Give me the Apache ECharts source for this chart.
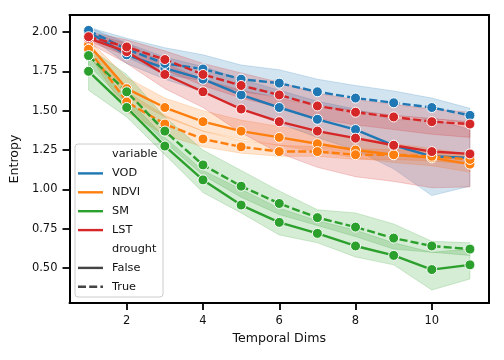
<!DOCTYPE html>
<html>
<head>
<meta charset="utf-8">
<script src="https://cdn.jsdelivr.net/npm/echarts@6/dist/echarts.min.js"></script>
<style>html,body{margin:0;padding:0;background:#fff;}#c{width:504px;height:360px;}</style>
</head>
<body>
<div id="c"></div>
<script>
const dims = [1,2,3,4,5,6,7,8,9,10,11];
const xTicks = [2,4,6,8,10];
const yTicks = [0.50,0.75,1.00,1.25,1.50,1.75,2.00];
const variables = ['VOD','NDVI','SM','LST'];
const droughtLevels = ['False','True'];

const VOD_F_mean = [2.00,1.855,1.77,1.70,1.60,1.52,1.445,1.38,1.28,1.21,1.20];
const VOD_F_lo   = [1.97,1.80,1.70,1.62,1.51,1.42,1.33,1.25,1.13,0.96,1.02];
const VOD_F_hi   = [2.03,1.93,1.84,1.78,1.70,1.63,1.56,1.51,1.44,1.45,1.38];
const VOD_T_mean = [2.01,1.89,1.80,1.765,1.70,1.675,1.62,1.58,1.55,1.52,1.47];
const VOD_T_lo   = [1.98,1.84,1.73,1.69,1.62,1.59,1.54,1.50,1.47,1.45,1.42];
const VOD_T_hi   = [2.03,1.96,1.90,1.855,1.79,1.76,1.70,1.66,1.625,1.58,1.515];

const NDVI_F_mean = [1.92,1.64,1.52,1.43,1.37,1.33,1.29,1.25,1.22,1.20,1.16];
const NDVI_F_lo   = [1.89,1.59,1.46,1.37,1.32,1.28,1.24,1.20,1.17,1.15,1.11];
const NDVI_F_hi   = [1.95,1.71,1.58,1.50,1.44,1.40,1.36,1.33,1.29,1.26,1.22];
const NDVI_T_mean = [1.89,1.555,1.415,1.32,1.27,1.24,1.24,1.22,1.22,1.21,1.19];
const NDVI_T_lo   = [1.86,1.49,1.345,1.27,1.23,1.21,1.21,1.19,1.19,1.18,1.16];
const NDVI_T_hi   = [1.92,1.62,1.47,1.37,1.31,1.28,1.27,1.26,1.25,1.24,1.23];

const SM_F_mean = [1.75,1.52,1.275,1.06,0.90,0.79,0.72,0.64,0.58,0.49,0.52];
const SM_F_lo   = [1.63,1.46,1.22,0.98,0.85,0.71,0.66,0.57,0.52,0.36,0.43];
const SM_F_hi   = [1.85,1.58,1.33,1.12,1.00,0.88,0.80,0.74,0.66,0.60,0.62];
const SM_T_mean = [1.85,1.62,1.37,1.155,1.02,0.91,0.82,0.76,0.69,0.64,0.62];
const SM_T_lo   = [1.79,1.54,1.30,1.09,0.95,0.84,0.77,0.70,0.62,0.60,0.58];
const SM_T_hi   = [1.90,1.73,1.46,1.25,1.12,0.99,0.87,0.85,0.78,0.67,0.66];

const LST_F_mean = [1.96,1.875,1.73,1.62,1.51,1.43,1.37,1.325,1.28,1.24,1.225];
const LST_F_lo   = [1.93,1.80,1.64,1.52,1.36,1.23,1.14,1.08,1.05,1.01,1.015];
const LST_F_hi   = [1.99,1.93,1.80,1.70,1.63,1.58,1.53,1.50,1.47,1.45,1.43];
const LST_T_mean = [1.97,1.905,1.825,1.73,1.66,1.60,1.53,1.49,1.46,1.43,1.415];
const LST_T_lo   = [1.94,1.85,1.76,1.66,1.58,1.52,1.45,1.41,1.38,1.35,1.33];
const LST_T_hi   = [2.00,1.95,1.88,1.80,1.74,1.68,1.61,1.57,1.54,1.51,1.49];

const colors = {VOD:'#1f77b4', NDVI:'#ff7f0e', SM:'#2ca02c', LST:'#d62728'};
const groups = [
  {v:'VOD', d:'False', mean:VOD_F_mean, lo:VOD_F_lo, hi:VOD_F_hi},
  {v:'VOD', d:'True', mean:VOD_T_mean, lo:VOD_T_lo, hi:VOD_T_hi},
  {v:'NDVI', d:'False', mean:NDVI_F_mean, lo:NDVI_F_lo, hi:NDVI_F_hi},
  {v:'NDVI', d:'True', mean:NDVI_T_mean, lo:NDVI_T_lo, hi:NDVI_T_hi},
  {v:'SM', d:'False', mean:SM_F_mean, lo:SM_F_lo, hi:SM_F_hi},
  {v:'SM', d:'True', mean:SM_T_mean, lo:SM_T_lo, hi:SM_T_hi},
  {v:'LST', d:'False', mean:LST_F_mean, lo:LST_F_lo, hi:LST_F_hi},
  {v:'LST', d:'True', mean:LST_T_mean, lo:LST_T_lo, hi:LST_T_hi}
];

function hexA(hex, a){
  const n = parseInt(hex.slice(1),16);
  return 'rgba(' + ((n>>16)&255) + ',' + ((n>>8)&255) + ',' + (n&255) + ',' + a + ')';
}

const series = [];
groups.forEach(function(g){
  const c = colors[g.v];
  const bandData = dims.map(function(x,k){ return [x, g.lo[k], g.hi[k]]; });
  series.push({
    type:'custom', silent:true, z:2,
    data: bandData,
    encode:{x:0, y:[1,2]},
    renderItem:function(params, api){
      if (params.dataIndex !== 0) return null;
      const pts = [];
      for (let k = 0; k < bandData.length; k++) pts.push(api.coord([bandData[k][0], bandData[k][2]]));
      for (let k = bandData.length - 1; k >= 0; k--) pts.push(api.coord([bandData[k][0], bandData[k][1]]));
      return {type:'polygon', shape:{points:pts},
        style:{fill:hexA(c,0.2), stroke:hexA(c,0.2), lineWidth:1}};
    }
  });
  series.push({
    type:'line', name:g.v + ' ' + g.d, z:2,
    data: dims.map(function(x,k){ return [x, g.mean[k]]; }),
    symbol:'circle', symbolSize:10, showAllSymbol:true,
    lineStyle:{color:c, width:2.4, type: g.d === 'True' ? [8,3.2] : 'solid'},
    itemStyle:{color:c, borderColor:'#ffffff', borderWidth:1}
  });
});

const FONT = 'DejaVu Sans';
const legendRows = [
  {label:'variable'},
  {label:'VOD', color:colors.VOD, dash:false},
  {label:'NDVI', color:colors.NDVI, dash:false},
  {label:'SM', color:colors.SM, dash:false},
  {label:'LST', color:colors.LST, dash:false},
  {label:'drought'},
  {label:'False', color:'#444444', dash:false},
  {label:'True', color:'#444444', dash:true}
];
const legendEls = [{
  type:'rect', shape:{x:75, y:144, width:88, height:153, r:3},
  style:{fill:'rgba(255,255,255,0.8)', stroke:'#cccccc', lineWidth:1}
}];
legendRows.forEach(function(r, i){
  const yc = 154.5 + i*18.9;
  if (r.color) {
    legendEls.push({type:'line', shape:{x1:78, y1:yc, x2:103, y2:yc},
      style:{stroke:r.color, lineWidth:2.4, lineDash: r.dash ? [8,3.2] : null}});
  }
  legendEls.push({type:'text', x:112, y:yc,
    style:{text:r.label, font:'11.3px "DejaVu Sans"', fill:'#111111', verticalAlign:'middle'}});
});

const chart = echarts.init(document.getElementById('c'), null, {renderer:'canvas'});
chart.setOption({
  animation:false,
  backgroundColor:'#ffffff',
  grid:{left:69, right:15, top:15, bottom:57},
  xAxis:[{
    type:'value', min:0.5, max:11.5,
    name:'Temporal Dims', nameLocation:'middle', nameGap:29,
    nameTextStyle:{fontFamily:FONT, fontSize:12.6, color:'#111'},
    axisLine:{show:true, onZero:false, lineStyle:{color:'#000', width:2}},
    axisTick:{show:true, length:7, lineStyle:{color:'#000', width:1.8}, customValues:xTicks},
    axisLabel:{fontFamily:FONT, fontSize:11.5, color:'#111', margin:12, customValues:xTicks},
    splitLine:{show:false}
  },{
    type:'value', min:0.5, max:11.5, position:'top',
    axisLine:{show:true, onZero:false, lineStyle:{color:'#000', width:2}},
    axisTick:{show:false}, axisLabel:{show:false}, splitLine:{show:false}
  }],
  yAxis:[{
    type:'value', min:0.2775, max:2.108,
    name:'Entropy', nameLocation:'middle', nameGap:43, nameRotate:90,
    nameTextStyle:{fontFamily:FONT, fontSize:12.6, color:'#111'},
    axisLine:{show:true, onZero:false, lineStyle:{color:'#000', width:2}},
    axisTick:{show:true, length:7, lineStyle:{color:'#000', width:1.8}, customValues:yTicks},
    axisLabel:{fontFamily:FONT, fontSize:11.5, color:'#111', margin:12, customValues:yTicks,
      formatter:function(v){ return v.toFixed(2); }},
    splitLine:{show:false}
  },{
    type:'value', min:0.2775, max:2.108, position:'right',
    axisLine:{show:true, onZero:false, lineStyle:{color:'#000', width:2}},
    axisTick:{show:false}, axisLabel:{show:false}, splitLine:{show:false}
  }],
  series:series,
  graphic:[{type:'group', z:100, children:legendEls}]
});
</script>
</body>
</html>
